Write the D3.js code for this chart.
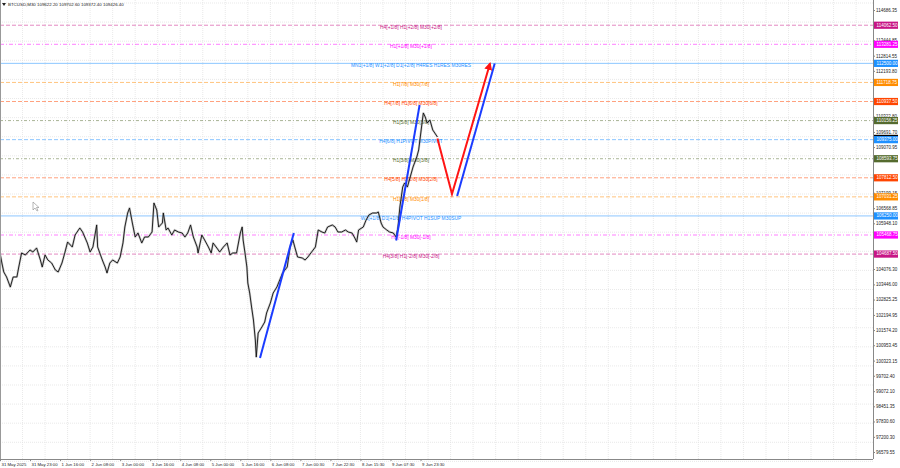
<!DOCTYPE html>
<html><head><meta charset="utf-8">
<script src="https://cdn.jsdelivr.net/npm/d3@7"></script>
<style>
html,body{margin:0;padding:0;background:#fff;}
svg{display:block;font-family:"Liberation Sans",Arial,sans-serif;}
</style></head><body>
<svg id="chart" width="900" height="468"></svg>
<script>
// ---------- DATA ----------
const titleText = "BTCUSD,M30 109622.20 109702.60 109372.40 109426.40";
// bar index (M30 bars from left edge) and close prices
const bars = [0,2,4,7,11,14,18,20,23,27,32,35,39,43,45,48,51,55,59,62,66,69,72,77,80,85,88,93,96,99,103,104,109,112,114,117,120,125,128,131,133,136,138,141,144,147,151,154,158,162,164,167,169,173,174,177,179,183,186,190,194,197,200,203,206,210,211,215,218,222,225,227,231,234,238,242,245,248,252,256,258,259,261,263,264,266,268,270,272,273,275,279,282,284,288,291,295,298,301,306,309,312,314,317,322,325,328,332,336,339,343,346,349,354,357,360,364,368,371,375,378,380,382,387,390,393,397,401,403,406,408,412,415,419,422,424,426,429,431,434,437,440,444,446,450,451,453,455,458,461,466];
const closes = [104732,104322,103954,103749,103339,103749,103749,104158,104732,104650,104855,104773,104937,104445,104158,104650,104445,104322,104035,103954,104322,104732,105182,104978,105469,105756,105592,105142,104773,104978,105879,104978,104445,104158,103913,104322,104445,104322,104568,105142,105797,106370,106575,105961,105387,105551,105142,105387,105387,105592,106780,106493,105797,105961,106370,105674,105756,105469,105674,105592,105551,105387,105551,105879,105387,104978,104732,105469,105264,104978,104732,105142,104937,104773,104978,105142,104650,104732,104732,105551,105797,105264,104732,104158,103503,103093,102520,101987,101168,100471,101455,101700,101905,102274,102684,103093,103339,103626,103913,104158,104978,105264,104978,104568,104527,104445,104568,104773,104978,105674,105592,105551,105797,105879,105797,105592,105592,105674,105592,105551,105346,105182,105674,105797,106084,106289,106370,106370,106411,105961,105797,105674,105592,105551,105387,105797,106616,107436,107599,107436,107845,108255,108664,108951,110180,110467,110303,110057,110180,109771,109484];
const currentPrice = 109426.40;

const timeTickBars = [0,32,64,96,128,160,192,224,256,288,320,352,384,416,448];
const timeTickLabels = ["31 May 2025","31 May 23:00","1 Jun 16:00","2 Jun 08:00","3 Jun 00:00","3 Jun 16:00","4 Jun 08:00","5 Jun 00:00","5 Jun 16:00","6 Jun 08:00","7 Jun 00:30","7 Jun 22:30","8 Jun 15:30","9 Jun 07:30","9 Jun 23:30"];

const priceTicks = [114686.35,113444.85,112814.55,112193.80,110322.80,109691.70,109070.95,107199.15,106568.85,105948.10,104076.30,103446.00,102825.25,102194.95,101574.20,100953.45,100323.15,99702.40,99072.10,98451.35,97830.60,97200.30,96579.55];

const levelPrices = [114062.50,113281.25,112500.00,111718.75,110937.50,110156.25,109375.00,108593.75,107812.50,107031.25,106250.00,105468.75,104687.50];
const levelLabels = [
 "H4[+1/8] H1[+2/8] M30[+2/8]",
 "H1[+1/8] M30[+1/8]",
 "MN1[+1/8] W1[+2/8] D1[+2/8] H4RES H1RES M30RES",
 "H1[7/8] M30[7/8]",
 "H4[7/8] H1[6/8] M30[6/8]",
 "H1[5/8] M30[5/8]",
 "H4[6/8] H1PIVOT M30PIVOT",
 "H1[3/8] M30[3/8]",
 "H4[5/8] H1[2/8] M30[2/8]",
 "H1[1/8] M30[1/8]",
 "W1[+1/8] D1[+1/8] H4PIVOT H1SUP M30SUP",
 "H1[-1/8] M30[-1/8]",
 "H4[3/8] H1[-2/8] M30[-2/8]"
];
// projection arrows: [bar, price]
const blueLeg1 = [[277,100431],[313,105551]];
const blueLeg2 = [[422,105244],[447,110795]];
const redPath  = [[466,109422],[481.5,107149],[522,112495]];
const blueLeg3 = [[487,107067],[527,112495]];

// ---------- STYLE ----------
const levelColors = ["#c71585","#ff00ff","#1e90ff","#ff8c00","#ff4500","#556b2f","#1e90ff","#556b2f","#ff4500","#ff8c00","#1e90ff","#ff00ff","#c71585"];
const levelDash = ["4,2","4,2,1,2",null,"4,2","4,2","3,2,1,2","4,2","3,2,1,2","4,2","4,2",null,"4,2,1,2","4,2"];

// ---------- CHART ----------
const svg = d3.select("#chart");
const W = 900, H = 468, plotR = 873, plotB = 459;
const x = d3.scaleLinear().domain([0, 930]).range([0, plotR]);
const y = d3.scaleLinear().domain([96579.55, 114686.35]).range([452, 10]);

svg.append("rect").attr("width",W).attr("height",H).attr("fill","#fff");

// grid
const grid = svg.append("g").attr("stroke","#e3e3e3").attr("stroke-width",0.8).attr("stroke-dasharray","1,1");
d3.range(24, 930, 24).forEach(b=>{
  grid.append("line").attr("x1",x(b)).attr("x2",x(b)).attr("y1",0).attr("y2",plotB);
});
d3.range(0, plotB, 19.1).forEach(v=>{
  grid.append("line").attr("x1",0).attr("x2",plotR).attr("y1",v+3).attr("y2",v+3);
});

// level lines
const lv = svg.append("g");
levelPrices.forEach((p,i)=>{
  lv.append("line").attr("x1",0).attr("x2",plotR)
    .attr("y1",y(p)).attr("y2",y(p))
    .attr("stroke",levelColors[i]).attr("stroke-opacity",0.5)
    .attr("stroke-width",1)
    .attr("stroke-dasharray",levelDash[i]);
});

// price series
const line = d3.line().x((d,i)=>x(bars[i])).y(d=>y(d));
svg.append("path").datum(closes).attr("d",line)
  .attr("fill","none").attr("stroke","#8a8a8a").attr("stroke-width",2.2).attr("stroke-opacity",0.45).attr("stroke-linejoin","round");
svg.append("path").datum(closes).attr("d",line)
  .attr("fill","none").attr("stroke","#111").attr("stroke-width",0.9).attr("stroke-linejoin","miter");

// level labels
levelPrices.forEach((p,i)=>{
  lv.append("text").attr("x",411).attr("y",y(p)+2.4)
    .attr("text-anchor","middle").attr("dominant-baseline","middle")
    .attr("font-size",4.9).attr("fill",levelColors[i])
    .text(levelLabels[i]);
});

// arrows
const pl = d3.line().x(d=>x(d[0])).y(d=>y(d[1]));
const defs = svg.append("defs");
defs.append("marker").attr("id","ah").attr("viewBox","0 0 10 10").attr("refX",8).attr("refY",5)
  .attr("markerWidth",4).attr("markerHeight",4).attr("orient","auto")
  .append("path").attr("d","M0,0L10,5L0,10z").attr("fill","#ff1414");
[blueLeg1, blueLeg2, blueLeg3].forEach(seg=>{
  svg.append("path").datum(seg).attr("d",pl).attr("fill","none")
    .attr("stroke","#1b3cff").attr("stroke-width",2);
});
svg.append("path").datum(redPath).attr("d",pl).attr("fill","none")
  .attr("stroke","#ff1414").attr("stroke-width",2).attr("marker-end","url(#ah)");

// axes
const yAxis = d3.axisRight(y).tickValues(priceTicks).tickFormat(d3.format(".2f")).tickSize(2).tickPadding(1);
const ga = svg.append("g").attr("transform",`translate(${plotR},0)`).call(yAxis);
ga.select(".domain").attr("d",`M0.5,0V${plotB}`).attr("stroke","#888");
ga.selectAll("text").attr("font-size",4.5).attr("fill","#222").attr("font-family","Liberation Sans, Arial");
ga.selectAll("line").attr("stroke","#888");

const xAxis = d3.axisBottom(x).tickValues(timeTickBars).tickFormat((d,i)=>timeTickLabels[i]).tickSize(2).tickPadding(2);
const gx = svg.append("g").attr("transform",`translate(0,${plotB})`).call(xAxis);
gx.select(".domain").attr("d",`M0,0.5H${plotR}`).attr("stroke","#888");
gx.selectAll("text").attr("text-anchor","start").attr("font-size",4.3).attr("fill","#222").attr("font-family","Liberation Sans, Arial").attr("dx",1);
gx.selectAll("line").attr("stroke","#888");

// left border
svg.append("line").attr("x1",0.5).attr("x2",0.5).attr("y1",0).attr("y2",plotB).attr("stroke","#999");

// level value boxes
const bx = svg.append("g");
function valueBox(p, col){
  const g = bx.append("g").attr("transform",`translate(${plotR+1},${y(p)})`);
  g.append("rect").attr("x",0).attr("y",-3.6).attr("width",24).attr("height",7.2).attr("fill",col);
  g.append("text").attr("x",2.5).attr("y",0.2).attr("dominant-baseline","middle")
    .attr("font-size",4.5).attr("fill","#fff").text(d3.format(".2f")(p));
}
valueBox(currentPrice, "#000");
levelPrices.forEach((p,i)=>valueBox(p, levelColors[i]));

// title
svg.append("path").attr("d","M2,3L6,3L4,6Z").attr("fill","#222");
svg.append("text").attr("x",8).attr("y",5).attr("dominant-baseline","middle")
  .attr("font-size",4.4).attr("fill","#222").text(titleText);

// mouse cursor
svg.append("path").attr("d","M33,202L33,210L35,208L37,211L38,210.5L36.5,207.5L39,207.5Z")
  .attr("fill","#fff").attr("stroke","#888").attr("stroke-width",0.6);
</script>
</body></html>
